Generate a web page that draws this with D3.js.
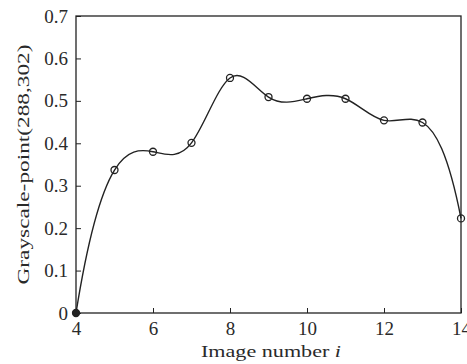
<!DOCTYPE html>
<html>
<head>
<meta charset="utf-8">
<script src="https://cdn.jsdelivr.net/npm/d3@7"></script>
<style>
  body { margin: 0; background: #fff; }
  text { font-family: "Liberation Serif", "Times New Roman", serif; fill: #2a2a2a; }
</style>
</head>
<body>
<div id="chart"></div>
<script>
const imageNumbers = [4, 5, 6, 7, 8, 9, 10, 11, 12, 13, 14];
const grayValues = [0, 0.337, 0.380, 0.401, 0.554, 0.509, 0.505, 0.505, 0.454, 0.449, 0.223];
const xTicks = [4, 6, 8, 10, 12, 14];
const yTicks = [0, 0.1, 0.2, 0.3, 0.4, 0.5, 0.6, 0.7];

const width = 467, height = 364;
const margin = { top: 16, right: 6, bottom: 51, left: 76 };

// cubic spline with not-a-knot ends (like matlab's spline), as a d3 curve
function curveSpline(context) {
  let pts;
  return {
    areaStart() {}, areaEnd() {},
    lineStart() { pts = []; },
    point(x, y) { pts.push([+x, +y]); },
    lineEnd() {
      const n = pts.length;
      if (n < 4) {
        pts.forEach((p, i) => i ? context.lineTo(p[0], p[1]) : context.moveTo(p[0], p[1]));
        return;
      }
      const ys = pts.map(p => p[1]);
      // matrix for second derivatives M (unit spacing in index)
      const A = d3.range(n).map(() => new Array(n + 1).fill(0));
      A[0][0] = 1; A[0][1] = -2; A[0][2] = 1;
      for (let i = 1; i < n - 1; i++) {
        A[i][i - 1] = 1; A[i][i] = 4; A[i][i + 1] = 1;
        A[i][n] = 6 * (ys[i - 1] - 2 * ys[i] + ys[i + 1]);
      }
      A[n - 1][n - 3] = 1; A[n - 1][n - 2] = -2; A[n - 1][n - 1] = 1;
      // gaussian elimination with pivoting
      for (let c = 0; c < n; c++) {
        let p = c;
        for (let r = c + 1; r < n; r++) if (Math.abs(A[r][c]) > Math.abs(A[p][c])) p = r;
        [A[c], A[p]] = [A[p], A[c]];
        for (let r = 0; r < n; r++) {
          if (r === c) continue;
          const f = A[r][c] / A[c][c];
          if (f) for (let k = c; k <= n; k++) A[r][k] -= f * A[c][k];
        }
      }
      const M = A.map((row, i) => row[n] / row[i]);
      context.moveTo(pts[0][0], pts[0][1]);
      for (let i = 0; i < n - 1; i++) {
        const [x0, y0] = pts[i], [x1, y1] = pts[i + 1];
        const d0 = (y1 - y0) - (2 * M[i] + M[i + 1]) / 6;
        const d1 = (y1 - y0) + (M[i] + 2 * M[i + 1]) / 6;
        context.bezierCurveTo(
          x0 + (x1 - x0) / 3, y0 + d0 / 3,
          x1 - (x1 - x0) / 3, y1 - d1 / 3,
          x1, y1);
      }
    }
  };
}

const svg = d3.select('#chart')
  .append('svg')
    .attr('width', width)
    .attr('height', height);

const x = d3.scaleLinear().domain([4, 14]).range([margin.left, width - margin.right]);
const y = d3.scaleLinear().domain([0, 0.7]).range([height - margin.bottom, margin.top]);

// frame
svg.append('rect')
  .attr('x', x(4)).attr('y', y(0.7))
  .attr('width', x(14) - x(4)).attr('height', y(0) - y(0.7))
  .attr('fill', 'none').attr('stroke', '#222').attr('stroke-width', 1.3);

// axes with inward ticks
const xAxis = svg.append('g')
  .attr('transform', `translate(0,${y(0)})`)
  .call(d3.axisBottom(x).tickValues(xTicks).tickSize(-5).tickPadding(9).tickFormat(d3.format('d')));
xAxis.select('.domain').remove();
xAxis.selectAll('line').attr('stroke', '#222');
xAxis.selectAll('text').style('font-size', '19px').attr('dy', '0.7em');

const yAxis = svg.append('g')
  .attr('transform', `translate(${x(4)},0)`)
  .call(d3.axisLeft(y).tickValues(yTicks).tickSize(-5).tickPadding(8).tickFormat(d => d === 0 ? '0' : d3.format('.1f')(d)));
yAxis.select('.domain').remove();
yAxis.selectAll('line').attr('stroke', '#222');
yAxis.selectAll('text').style('font-size', '19px');

// labels
const xl = svg.append('text')
  .attr('x', 271).attr('y', 357)
  .attr('text-anchor', 'middle')
  .attr('textLength', 140)
  .attr('lengthAdjust', 'spacingAndGlyphs')
  .style('font-size', '16px');
xl.append('tspan').text('Image number ');
xl.append('tspan').style('font-style', 'italic').text('i');

svg.append('text')
  .attr('transform', `translate(23,${(y(0) + y(0.7)) / 2}) rotate(-90)`)
  .attr('text-anchor', 'middle')
  .attr('dy', '0.35em')
  .attr('textLength', 240)
  .attr('lengthAdjust', 'spacingAndGlyphs')
  .style('font-size', '16px')
  .text('Grayscale-point(288,302)');

const data = imageNumbers.map((d, i) => ({ n: d, v: grayValues[i] }));

const line = d3.line()
  .x(d => x(d.n))
  .y(d => y(d.v))
  .curve(curveSpline);

svg.append('path')
  .datum(data)
  .attr('d', line)
  .attr('fill', 'none')
  .attr('stroke', '#222')
  .attr('stroke-width', 1.4);

svg.append('g')
  .selectAll('circle')
  .data(data)
  .enter()
  .append('circle')
    .attr('cx', d => x(d.n))
    .attr('cy', d => y(d.v))
    .attr('r', 3.5)
    .attr('fill', d => d.v === 0 ? '#222' : 'none')
    .attr('stroke', '#222')
    .attr('stroke-width', 1.3);
</script>
</body>
</html>
